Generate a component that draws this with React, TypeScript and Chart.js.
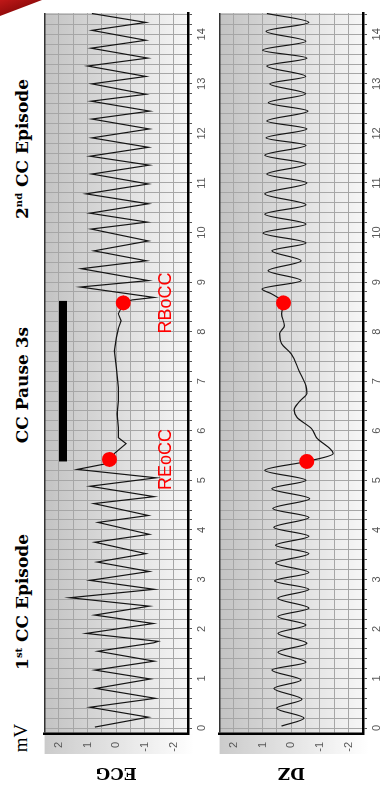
import React, { useEffect, useRef } from "react";
import { Chart, registerables } from "chart.js";

Chart.register(...registerables);

// ---------- data (time in s, amplitude) ----------
const ecgTime = [
  0.02, 0.22, 0.42, 0.6, 0.8, 0.99, 1.17, 1.35, 1.55, 1.72, 1.75, 1.91, 2.11, 2.28, 2.46, 2.63,
  2.8, 2.98, 3.16, 3.35, 3.52, 3.75, 3.91, 4.15, 4.29, 4.53, 4.67, 4.88, 5.05, 5.22,
  5.34, 5.42, 5.55, 5.74, 5.86, 6.06, 6.34, 6.6, 6.87, 7.27, 7.61, 7.88, 8.06, 8.22, 8.36,
  8.48, 8.58, 8.64, 8.69, 8.9, 9.03, 9.27, 9.43, 9.63, 9.83, 10.07, 10.21, 10.39, 10.58,
  10.78, 10.98, 11.18, 11.36, 11.54, 11.72, 11.91, 12.09, 12.29, 12.45, 12.65, 12.79, 13.0,
  13.15, 13.36, 13.52, 13.72, 13.88, 14.08, 14.24, 14.42,
];
const ecgMv = [
  0.75, -1.12, 0.92, -1.36, 0.71, -1.19, 0.75, -1.32, 0.64, -1.3, -1.46, 1.05, -1.29, 0.75, -1.15, 1.62,
  -1.32, 0.92, -1.15, 0.67, -1.03, 0.75, -1.15, 0.64, -1.12, 0.78, -1.32, 0.92, -1.39, 1.36,
  0.3, 0.24, 0.05, -0.34, -0.07, -0.07, -0.03, -0.07, -0.07, 0.0, 0.07, 0.0, -0.07, -0.17, -0.07,
  -0.17, -0.24, -0.55, -1.32, 1.25, -1.12, 1.22, -1.05, 0.78, -1.12, 0.88, -1.08, 0.92, -1.12,
  1.05, -1.12, 0.85, -1.15, 0.92, -1.12, 0.85, -1.15, 0.85, -1.17, 0.88, -1.03, 0.85,
  -1.03, 1.0, -1.1, 0.88, -1.03, 0.85, -1.03, 0.85,
];
const dzTime = [
  0.04, 0.2, 0.4, 0.58, 0.8, 0.97, 1.17, 1.33, 1.53, 1.71, 1.91, 2.08, 2.25, 2.42, 2.62,
  2.8, 2.97, 3.14, 3.33, 3.52, 3.69, 3.87, 4.05, 4.25, 4.43, 4.63, 4.83, 5.0, 5.2,
  5.38, 5.54, 5.86, 6.04, 6.27, 6.42, 6.6, 6.75, 6.91, 7.21, 7.55, 7.76, 7.96, 8.12, 8.36,
  8.58, 8.76, 8.86, 9.03, 9.23, 9.43, 9.63, 9.79, 9.99, 10.17, 10.37, 10.56, 10.78, 11.0,
  11.18, 11.38, 11.56, 11.76, 11.91, 12.09, 12.25, 12.45, 12.62, 12.8, 13.0, 13.15, 13.36,
  13.52, 13.68, 13.86, 14.06, 14.24, 14.42,
];
const dzValue = [
  0.34, -0.44, 0.51, -0.37, 0.61, -0.34, 0.68, -0.51, 0.47, -0.54, 0.47, -0.51, 0.47, -0.61, 0.47,
  -0.61, 0.58, -0.61, 0.55, -0.61, 0.55, -0.61, 0.61, -0.61, 0.64, -0.64, 0.68, -0.51, 0.92,
  -0.54, -1.46, -0.88, -0.71, -0.2, -0.1, -0.3, -0.54, -0.51, -0.27, 0.0, 0.34, 0.41, 0.24, 0.34,
  0.27, 0.68, 1.02, -0.34, 0.81, -0.34, 0.68, -0.51, 0.98, -0.51, 0.92, -0.51, 0.92, -0.54,
  0.85, -0.51, 0.92, -0.51, 0.88, -0.54, 0.85, -0.58, 0.8, -0.5, 0.75, -0.5, 0.85,
  -0.54, 1.0, -0.51, 0.88, -0.61, 0.85,
];
const ecgMarkTime = [5.42, 8.58];
const ecgMarkValue = [0.24, -0.24];
const dzMarkTime = [5.38, 8.58];
const dzMarkValue = [-0.54, 0.27];
const pauseTime = [5.38, 8.62];
const pauseLevel = [1.86, 1.86];
const markLabels = ["REoCC", "RBoCC"];
const markLabelTime = [5.42, 8.58];
const markLabelLevel = [-1.73, -1.73];
const timeMin = -0.12;
const timeMax = 14.43;
const timeGridStep = 0.2;
const ampMin = -2.5;
const ampMax = 2.5;
const ampGridStep = 0.5;

const zip = (xs: number[], ys: number[]) => xs.map((x, i) => ({ x, y: ys[i] }));

const gridValues = (lo: number, hi: number, step: number) => {
  const out: { value: number }[] = [];
  const start = Math.ceil(lo / step - 1e-9);
  const end = Math.floor(hi / step + 1e-9);
  for (let i = start; i <= end; i++) out.push({ value: Math.round(i * step * 1000) / 1000 });
  return out;
};

const intLabel = (v: any) => {
  const n = Number(v);
  return Math.abs(n - Math.round(n)) < 1e-6 ? String(Math.round(n)) : "";
};

const bgPlugin = {
  id: "bgPanel",
  beforeDraw(chart: any) {
    const { ctx, chartArea: a } = chart;
    ctx.save();
    const g = ctx.createLinearGradient(0, a.top, 0, a.bottom);
    g.addColorStop(0, "#c3c3c3");
    g.addColorStop(1, "#f6f6f6");
    ctx.fillStyle = g;
    ctx.fillRect(a.left, a.top, a.right - a.left, a.bottom - a.top);
    const g2 = ctx.createLinearGradient(0, a.top, 0, a.bottom + 6);
    g2.addColorStop(0, "#cbcbcb");
    g2.addColorStop(1, "#ffffff");
    ctx.fillStyle = g2;
    ctx.fillRect(a.left - 20, a.top, 20, a.bottom - a.top + 6);
    ctx.restore();
  },
};

const labelPlugin = {
  id: "markLabels",
  afterDatasetsDraw(chart: any) {
    const opts = chart.options.plugins.markLabels;
    if (!opts || !opts.show) return;
    const { ctx, scales } = chart;
    ctx.save();
    ctx.fillStyle = "#ff0000";
    ctx.font = '18px "Liberation Sans", Arial, sans-serif';
    ctx.textAlign = "center";
    ctx.textBaseline = "middle";
    markLabels.forEach((t, i) => {
      ctx.fillText(t, scales.x.getPixelForValue(markLabelTime[i]), scales.y.getPixelForValue(markLabelLevel[i]));
    });
    ctx.restore();
  },
};

type PanelProps = {
  title: string;
  time: number[];
  values: number[];
  markT: number[];
  markV: number[];
  withPause: boolean;
  smooth: boolean;
  top: number;
};

function Panel({ title, time, values, markT, markV, withPause, smooth, top }: PanelProps) {
  const ref = useRef<HTMLCanvasElement>(null);
  useEffect(() => {
    if (!ref.current) return;
    const datasets: any[] = [
      {
        data: zip(markT, markV),
        showLine: false,
        pointRadius: 7.5,
        pointBackgroundColor: "#ff0000",
        pointBorderWidth: 0,
        borderColor: "#ff0000",
      },
      {
        data: zip(time, values),
        borderColor: "#151515",
        borderWidth: 1.2,
        pointRadius: 0,
        fill: false,
        tension: 0,
        cubicInterpolationMode: smooth ? "monotone" : "default",
      },
    ];
    if (withPause) {
      datasets.push({
        data: zip(pauseTime, pauseLevel),
        borderColor: "#000000",
        borderWidth: 8,
        borderCapStyle: "butt",
        pointRadius: 0,
        fill: false,
      });
    }
    const chart = new Chart(ref.current, {
      type: "line",
      data: { datasets },
      plugins: [bgPlugin, labelPlugin],
      options: {
        animation: false,
        responsive: false,
        devicePixelRatio: 1,
        layout: { padding: { top: 10, right: 13, left: 0, bottom: 0 } },
        plugins: {
          legend: { display: false },
          tooltip: { enabled: false },
          markLabels: { show: withPause },
        } as any,
        scales: {
          x: {
            type: "linear",
            min: timeMin,
            max: timeMax,
            afterBuildTicks: (s: any) => {
              s.ticks = gridValues(timeMin, timeMax, timeGridStep);
            },
            afterFit: (s: any) => {
              s.height = 27;
            },
            border: { display: true, color: "#000", width: 2.5 },
            grid: {
              color: "#a6a6a6",
              lineWidth: 1,
              drawTicks: true,
              tickLength: 4,
              tickColor: "#555",
            },
            ticks: {
              autoSkip: false,
              maxRotation: 0,
              minRotation: 0,
              padding: 3,
              color: "#555",
              font: { family: '"Liberation Sans", Arial, sans-serif', size: 11 },
              callback: intLabel,
            },
          },
          y: {
            type: "linear",
            min: ampMin,
            max: ampMax,
            afterBuildTicks: (s: any) => {
              s.ticks = gridValues(ampMin, ampMax, ampGridStep);
            },
            afterFit: (s: any) => {
              s.width = 53;
            },
            border: { display: true, color: "#000", width: 2.5 },
            grid: {
              color: (c: any) => (c.tick && c.tick.value >= ampMax ? "#333" : "#a6a6a6"),
              lineWidth: (c: any) => (c.tick && c.tick.value >= ampMax ? 1.5 : 1),
              drawTicks: false,
            },
            title: {
              display: true,
              text: title,
              color: "#000",
              padding: { top: 4, bottom: 0 },
              font: { family: '"DejaVu Serif", serif', size: 17, weight: "bold" },
            },
            ticks: {
              autoSkip: false,
              padding: 8,
              color: "#555",
              font: { family: '"Liberation Sans", Arial, sans-serif', size: 11 },
              callback: intLabel,
            },
          },
        },
      } as any,
    });
    return () => chart.destroy();
  }, []);
  return (
    <canvas
      ref={ref}
      width={787}
      height={185}
      style={{ position: "absolute", left: 0, top, width: 787, height: 185 }}
    />
  );
}

const titleStyle: React.CSSProperties = {
  position: "absolute",
  top: 11,
  width: 220,
  textAlign: "center",
  fontFamily: '"DejaVu Serif", serif',
  fontWeight: "bold",
  fontSize: 17,
  lineHeight: "22px",
  color: "#000",
  whiteSpace: "nowrap",
};
const supStyle: React.CSSProperties = { fontSize: 10, verticalAlign: "6px", lineHeight: 0 };

export default function App() {
  return (
    <div
      style={{
        position: "fixed",
        left: 0,
        top: 0,
        width: 382,
        height: 787,
        overflow: "hidden",
        background: "#ffffff",
      }}
    >
      <div
        style={{
          position: "absolute",
          left: 0,
          top: 0,
          width: 787,
          height: 382,
          transformOrigin: "0 0",
          transform: "translate(0px, 787px) rotate(-90deg)",
          background: "#ffffff",
        }}
      >
        <div style={{ ...titleStyle, left: 185 - 110 }}>
          1<sup style={supStyle}>st</sup> CC Episode
        </div>
        <div style={{ ...titleStyle, left: 402 - 110 }}>CC Pause 3s</div>
        <div style={{ ...titleStyle, left: 638 - 110 }}>
          2<sup style={supStyle}>nd</sup> CC Episode
        </div>
        <div
          style={{
            position: "absolute",
            left: 29,
            top: 10,
            width: 40,
            textAlign: "center",
            fontFamily: '"Liberation Serif", "Times New Roman", serif',
            fontSize: 19,
            lineHeight: "22px",
            color: "#000",
          }}
        >
          mV
        </div>
        <Panel
          title="ECG"
          time={ecgTime}
          values={ecgMv}
          markT={ecgMarkTime}
          markV={ecgMarkValue}
          withPause={true}
          smooth={false}
          top={30}
        />
        <Panel
          title="DZ"
          time={dzTime}
          values={dzValue}
          markT={dzMarkTime}
          markV={dzMarkValue}
          withPause={false}
          smooth={true}
          top={205}
        />
      </div>
      <div
        style={{
          position: "absolute",
          left: 0,
          top: 0,
          width: 42,
          height: 16,
          background: "linear-gradient(160deg, #c01818, #6a0000)",
          clipPath: "polygon(0 0, 100% 0, 0 100%)",
        }}
      />
    </div>
  );
}
